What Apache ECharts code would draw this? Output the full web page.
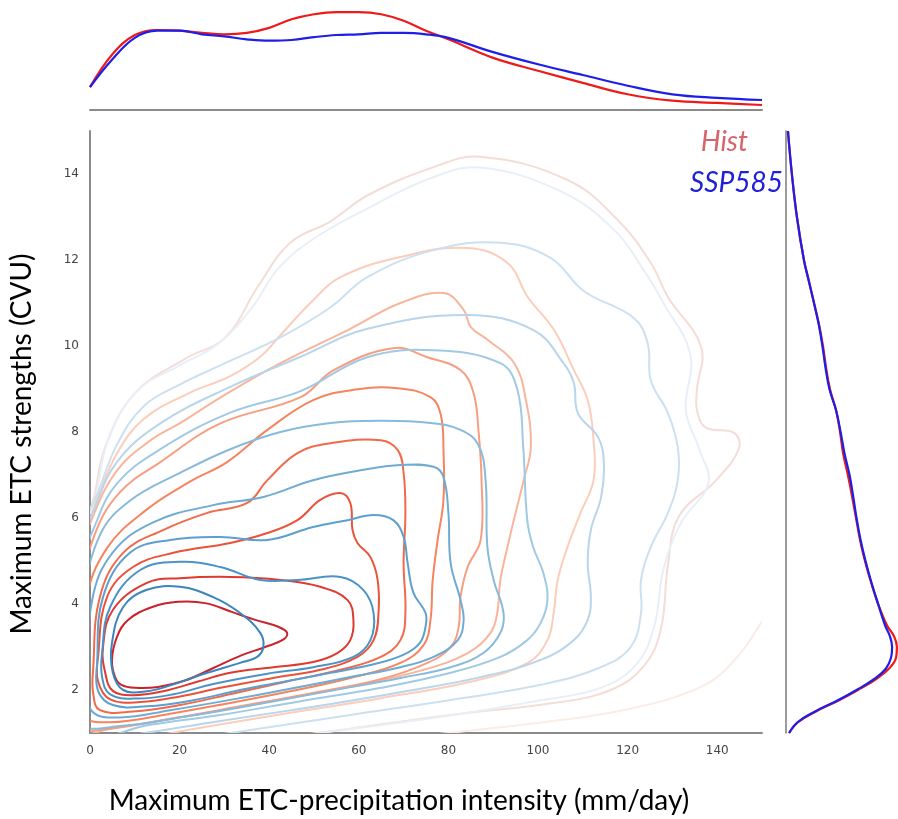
<!DOCTYPE html>
<html>
<head>
<meta charset="utf-8">
<script src="https://cdn.jsdelivr.net/npm/echarts@6/dist/echarts.min.js"></script>
<style>
  html, body { margin: 0; padding: 0; background: #ffffff; }
  #chart { width: 898px; height: 819px; }
</style>
</head>
<body>
<div id="chart"></div>
<script>
// ---------- axis ticks ----------
const precipTicks = [0, 20, 40, 60, 80, 100, 120, 140];
const cvuTicks = [2, 4, 6, 8, 10, 12, 14];

// ---------- marginal densities: precipitation (top panel) ----------
const precipGrid = [0, 5, 10, 15, 20, 25, 30, 35, 40, 45, 50, 55, 60, 65, 70, 75, 80, 90, 100, 110, 120, 130, 140, 150];
const histPrecipDensity = [0.0032, 0.0078, 0.0105, 0.0112, 0.0111, 0.0108, 0.0106, 0.0108, 0.0115, 0.0127, 0.0134, 0.0137, 0.0137, 0.0134, 0.0125, 0.0111, 0.0099, 0.0073, 0.0055, 0.0038, 0.0022, 0.0013, 0.0010, 0.0007];
const sspPrecipDensity  = [0.0032, 0.0071, 0.0101, 0.0111, 0.0111, 0.0106, 0.0103, 0.0099, 0.0097, 0.0098, 0.0102, 0.0105, 0.0106, 0.0108, 0.0108, 0.0106, 0.0101, 0.0081, 0.0064, 0.0049, 0.0034, 0.0022, 0.0017, 0.0014];

// ---------- marginal densities: ETC strength (right panel) ----------
const cvuGrid = [1.0, 1.25, 1.5, 1.75, 2.0, 2.25, 2.5, 2.75, 3.0, 3.25, 3.5, 4.0, 4.5, 5.0, 5.5, 6.0, 6.5, 7.0, 7.5, 8.0, 8.5, 9.0, 9.5, 10.0, 10.5, 11.0, 11.5, 12.0, 13.0, 14.0, 15.0];
const histCvuDensity = [0.011, 0.043, 0.107, 0.186, 0.257, 0.321, 0.368, 0.393, 0.396, 0.386, 0.361, 0.329, 0.304, 0.282, 0.264, 0.250, 0.236, 0.221, 0.204, 0.193, 0.179, 0.157, 0.143, 0.132, 0.118, 0.100, 0.082, 0.064, 0.039, 0.021, 0.007];
const sspCvuDensity  = [0.011, 0.041, 0.104, 0.182, 0.252, 0.314, 0.357, 0.375, 0.379, 0.371, 0.354, 0.329, 0.305, 0.284, 0.266, 0.252, 0.240, 0.227, 0.209, 0.195, 0.179, 0.155, 0.141, 0.130, 0.117, 0.100, 0.082, 0.064, 0.039, 0.021, 0.007];

// ---------- joint density iso-lines, Hist (level 1 = innermost) ----------
const histLevel1 = [[44.0,3.33],[42.0,3.47],[36.9,3.63],[31.8,3.81],[25.7,4.02],[19.7,4.05],[13.9,3.93],[8.5,3.63],[6.0,3.23],[4.9,2.70],[5.6,2.30],[7.0,2.12],[10.1,2.05],[15.2,2.07],[21.2,2.22],[27.3,2.50],[33.9,2.81],[39.1,3.00],[43.1,3.17]];
const histLevel2 = [[2.9,3.0],[5.1,3.86],[12.7,4.49],[20.1,4.60],[31.3,4.63],[42.5,4.56],[51.4,4.40],[57.5,4.09],[58.8,3.63],[58.1,3.16],[55.2,2.86],[49.8,2.65],[40.9,2.53],[31.3,2.40],[23.9,2.19],[16.3,1.97],[9.6,1.88],[5.1,1.98],[3.4,2.40]];
const histLevel3 = [[1.8,2.77],[3.8,4.16],[9.6,4.86],[18.6,5.19],[31.3,5.42],[39.6,5.65],[46.3,5.95],[51.4,6.42],[55.9,6.58],[58.1,6.35],[58.6,5.72],[59.7,5.42],[62.6,5.09],[64.2,4.56],[64.4,3.79],[63.3,3.16],[59.7,2.77],[51.4,2.47],[40.9,2.28],[29.1,2.05],[20.1,1.85],[11.2,1.72],[4.5,1.78],[1.8,2.20]];
const histLevel4 = [[0.7,2.47],[2.2,4.16],[7.4,5.19],[16.3,5.72],[26.2,6.12],[35.1,6.35],[39.6,6.88],[46.3,7.51],[53.7,7.74],[64.9,7.81],[68.7,7.58],[70.0,7.05],[70.4,6.12],[70.0,4.95],[70.4,3.79],[69.3,3.16],[64.9,2.77],[55.9,2.47],[44.0,2.20],[32.0,1.92],[20.1,1.65],[9.6,1.50],[2.2,1.53],[0.7,1.93]];
const histLevel5 = [[-1.5,2.2],[-0.8,4.1],[3.8,5.3],[12.7,6.2],[22.4,6.85],[30.6,7.3],[39.6,8.05],[49.8,8.74],[58.8,8.98],[68.6,9.02],[76.0,8.81],[78.3,8.40],[78.9,7.58],[78.9,6.42],[77.6,5.49],[76.5,4.56],[76.0,3.63],[74.5,3.05],[69.3,2.63],[58.1,2.28],[44.7,1.97],[31.3,1.70],[17.9,1.45],[4.5,1.25],[-1.5,1.4]];
const histLevel6 = [[-2.7,2.0],[-2.5,4.0],[1.0,5.6],[6.7,6.6],[15.7,7.3],[29.1,8.2],[47.0,8.81],[54.4,9.44],[67.7,9.95],[75.3,9.74],[82.7,9.44],[85.6,8.91],[86.7,8.05],[87.4,6.88],[87.2,5.49],[84.3,4.86],[82.7,4.16],[82.3,3.47],[80.5,3.0],[75.3,2.63],[64.9,2.25],[49.2,1.92],[33.5,1.62],[17.9,1.33],[2.2,1.07],[-2.7,1.1]];
const histLevel7 = [[-4.5,1.77],[-4.5,3.6],[-4.0,4.6],[0.5,6.0],[6.0,7.1],[13.4,7.8],[20.0,8.2],[29.1,8.8],[42.5,9.6],[58.1,10.4],[69.3,11.0],[79.0,11.23],[83.4,10.84],[85.0,10.44],[88.8,10.14],[94.7,9.60],[97.3,8.74],[98.4,7.65],[96.8,6.88],[94.6,5.95],[93.2,5.33],[91.6,4.56],[90.9,3.79],[89.4,3.33],[84.3,2.86],[73.8,2.45],[58.1,2.08],[40.2,1.74],[22.4,1.40],[4.5,1.10],[-4.5,0.95]];
const histLevel8 = [[-7.8,1.77],[-7.0,3.8],[-6.0,5.0],[0.5,6.2],[6.0,7.5],[12.0,8.3],[22.0,8.9],[31.3,9.3],[38.0,9.75],[42.5,10.25],[49.2,11.0],[55.9,11.6],[69.3,12.07],[84.3,12.28],[93.2,11.93],[97.7,11.14],[103.6,10.37],[108.0,9.44],[111.1,8.74],[112.4,7.81],[112.4,6.88],[109.5,6.12],[106.6,5.33],[104.4,4.56],[103.5,3.79],[102.1,3.16],[97.7,2.63],[84.9,2.19],[64.9,1.81],[44.7,1.47],[24.6,1.12],[6.7,0.79],[-7.8,0.6]];
const histLevel9 = [[-13.0,1.77],[-12.0,4.5],[-3.0,5.6],[0.4,6.3],[3.4,7.65],[10.0,8.9],[21.2,9.7],[30.2,10.2],[37.6,11.4],[44.7,12.4],[53.7,12.9],[61.9,13.5],[76.7,14.16],[87.2,14.4],[106.6,13.86],[117.8,12.93],[125.2,11.93],[129.0,11.14],[136.4,9.98],[135.5,9.0],[135.5,8.5],[137.5,8.1],[143.8,7.98],[144.8,7.6],[139.5,6.85],[131.5,6.05],[129.0,4.9],[127.4,3.4],[123.6,2.55],[116.2,2.0],[105.0,1.72],[80.5,1.42],[58.1,1.10],[35.8,0.8],[13.4,0.5],[-13.0,0.14]];
const histLevel10 = [[-20,1.0],[-20,12.0],[20,17.0],[100,17.5],[160,15.0],[163,6.0],[150,3.6],[142.4,2.53],[134.8,2.0],[120,1.55],[105,1.3],[80,1.0],[50,0.7],[0,0.3],[-20,0.2]];

// ---------- joint density iso-lines, SSP585 (level 1 = innermost) ----------
const sspLevel1 = [[4.9,3.09],[7.4,3.93],[12.7,4.33],[20.1,4.40],[27.5,4.16],[33.5,3.79],[38.0,3.33],[38.7,3.0],[37.3,2.77],[33.5,2.63],[26.2,2.40],[18.6,2.13],[12.7,1.97],[7.4,2.0],[5.1,2.40]];
const sspLevel2 = [[2.7,2.86],[4.5,3.93],[11.2,4.79],[20.1,4.98],[29.1,4.86],[38.0,4.56],[46.3,4.56],[55.9,4.63],[61.0,4.33],[63.3,3.79],[62.6,3.16],[58.8,2.77],[49.8,2.53],[39.6,2.38],[27.5,2.14],[18.6,1.90],[10.5,1.80],[4.5,1.90],[2.7,2.30]];
const sspLevel3 = [[1.6,2.63],[2.9,4.16],[8.9,5.19],[17.9,5.49],[29.1,5.56],[39.6,5.49],[49.8,5.79],[57.5,5.95],[63.3,6.07],[67.7,5.95],[70.0,5.56],[70.9,4.95],[72.2,4.26],[74.9,3.79],[74.9,3.47],[73.6,3.09],[69.8,2.81],[62.6,2.58],[53.7,2.40],[44.7,2.22],[33.5,2.0],[23.0,1.76],[12.7,1.62],[5.1,1.65],[1.8,1.98]];
const sspLevel4 = [[-0.5,2.2],[0.5,4.1],[5.1,5.2],[14.1,5.9],[27.5,6.3],[38.7,6.49],[49.8,6.88],[61.0,7.12],[69.3,7.23],[76.7,7.19],[78.9,6.95],[80.0,6.12],[80.5,4.95],[82.7,4.09],[83.4,3.63],[82.1,3.16],[76.7,2.77],[69.3,2.53],[58.1,2.30],[44.7,2.03],[31.3,1.77],[17.9,1.53],[6.7,1.36],[0.5,1.5]];
const sspLevel5 = [[-2.2,2.0],[-1.5,4.0],[2.2,5.6],[8.9,6.4],[20.1,7.05],[31.3,7.6],[42.5,8.0],[53.7,8.21],[64.9,8.26],[76.0,8.21],[82.7,8.05],[86.7,7.70],[88.3,6.88],[88.7,5.33],[90.1,4.56],[92.3,3.79],[91.6,3.33],[87.8,2.86],[80.5,2.53],[69.3,2.28],[53.7,1.98],[38.0,1.68],[22.4,1.40],[6.7,1.16],[-2.2,1.2]];
const sspLevel6 = [[-4.5,2.0],[-4.0,3.8],[-3.0,4.6],[1.0,5.8],[6.0,6.8],[15.7,7.6],[31.3,8.45],[47.0,8.95],[61.9,9.74],[76.7,9.90],[91.6,9.60],[95.4,8.98],[96.7,7.65],[97.6,5.95],[98.9,5.33],[101.2,4.72],[102.1,4.09],[100.6,3.56],[97.6,3.16],[91.6,2.77],[80.5,2.40],[64.9,2.05],[47.0,1.74],[29.1,1.42],[13.4,1.19],[-2.2,0.9]];
const sspLevel7 = [[-6.3,1.77],[-6.0,3.8],[-5.0,4.8],[0.5,6.1],[6.0,7.3],[15.7,8.2],[31.3,9.05],[47.0,9.75],[61.9,10.4],[84.3,10.72],[99.0,10.37],[105.7,9.60],[108.0,9.14],[108.9,8.44],[113.4,7.88],[114.7,7.28],[114.1,6.49],[111.8,5.72],[111.1,4.95],[111.8,4.16],[111.1,3.63],[108.0,3.16],[100.6,2.70],[87.2,2.30],[69.3,1.95],[49.2,1.60],[29.1,1.28],[11.2,0.98],[-6.3,0.72]];
const sspLevel8 = [[-10.0,1.77],[-9.0,3.9],[-7.0,5.0],[0.5,6.3],[6.0,7.7],[12.0,8.6],[20.0,9.1],[29.1,9.55],[42.5,10.2],[53.7,10.9],[61.9,11.6],[76.7,12.23],[91.6,12.40],[102.8,12.05],[110.2,11.28],[121.4,10.65],[124.5,10.05],[125.2,9.19],[129.0,8.44],[131.2,7.65],[131.2,6.88],[129.0,6.12],[125.2,5.33],[123.0,4.56],[123.0,3.79],[120.7,3.0],[114.0,2.53],[100.6,2.12],[80.5,1.77],[58.1,1.42],[35.8,1.07],[13.4,0.72],[-10.0,0.35]];
const sspLevel9 = [[-15,1.5],[-14,4.4],[-5,5.3],[0.5,6.25],[4.0,7.8],[10.5,8.95],[20.0,9.55],[28.6,10.05],[36.2,10.9],[42.0,11.8],[50.0,12.5],[62.0,13.2],[76.0,13.9],[87.0,14.15],[105.0,13.6],[117.0,12.7],[124.0,11.7],[128.0,11.0],[134.0,9.8],[133.0,8.5],[136.0,7.6],[138.0,6.8],[132.0,5.9],[128.0,4.8],[126.0,3.5],[122.0,2.6],[114.0,2.05],[100.0,1.75],[80,1.4],[55,1.05],[30,0.7],[0,0.3]];

const histLevels = [histLevel10, histLevel9, histLevel8, histLevel7, histLevel6, histLevel5, histLevel4, histLevel3, histLevel2, histLevel1];
const histColors = ['#fbece7', '#f3ddd6', '#fbcdbb', '#f9b59c', '#f89e80', '#f5845f', '#f06a4b', '#ea5239', '#de3a2f', '#c9222a'];
const sspLevels = [sspLevel9, sspLevel8, sspLevel7, sspLevel6, sspLevel5, sspLevel4, sspLevel3, sspLevel2, sspLevel1];
const sspColors = ['#e8eff7', '#cde0f0', '#b8d5eb', '#a0c9e3', '#88badc', '#70abd4', '#5d9fcd', '#4b93c6', '#3a86bd'];

// ---------- drawing ----------
const chart = echarts.init(document.getElementById('chart'), null, { renderer: 'canvas' });

function isoLineSeries(name, levels, colors) {
  return {
    type: 'custom',
    name: name,
    xAxisIndex: 0,
    yAxisIndex: 0,
    clip: true,
    silent: true,
    data: levels.map(function (pts, i) { return [pts[0][0], pts[0][1], i]; }),
    renderItem: function (params, api) {
      const i = params.dataIndex;
      const pts = levels[i].map(function (p) { return api.coord(p); });
      return {
        type: 'polygon',
        shape: { points: pts, smooth: 0.4 },
        style: { fill: 'none', stroke: colors[i], lineWidth: 2 }
      };
    }
  };
}

const tickFont = { color: '#444444', fontSize: 12, fontFamily: 'DejaVu Sans' };
const axisGray = '#8a8a8a';

const option = {
  backgroundColor: '#ffffff',
  animation: false,
  grid: [
    { left: 90, top: 131, width: 672, height: 602 },   // joint panel
    { left: 90, top: 10, width: 672, height: 100 },    // precipitation marginal
    { left: 786, top: 131, width: 112, height: 602 }   // strength marginal
  ],
  xAxis: [
    {
      gridIndex: 0, type: 'value', min: 0, max: 150, interval: 20,
      axisLine: { show: true, onZero: false, lineStyle: { color: axisGray, width: 2 } },
      axisTick: { show: false }, splitLine: { show: false },
      axisLabel: Object.assign({ margin: 12, formatter: function (v) { return precipTicks.indexOf(v) >= 0 ? String(v) : ''; } }, tickFont)
    },
    {
      gridIndex: 1, type: 'value', min: 0, max: 150,
      axisLine: { show: true, onZero: false, lineStyle: { color: axisGray, width: 2 } },
      axisTick: { show: false }, axisLabel: { show: false }, splitLine: { show: false }
    },
    { gridIndex: 2, type: 'value', min: 0, max: 0.4, show: false }
  ],
  yAxis: [
    {
      gridIndex: 0, type: 'value', min: 1, max: 15, interval: 1,
      axisLine: { show: true, onZero: false, lineStyle: { color: axisGray, width: 2 } },
      axisTick: { show: false }, splitLine: { show: false },
      axisLabel: Object.assign({ margin: 11, formatter: function (v) { return cvuTicks.indexOf(v) >= 0 ? String(v) : ''; } }, tickFont)
    },
    { gridIndex: 1, type: 'value', min: 0, max: 0.014, show: false },
    {
      gridIndex: 2, type: 'value', min: 1, max: 15,
      axisLine: { show: true, onZero: false, lineStyle: { color: '#7a7a7a', width: 1.5 } },
      axisTick: { show: false }, axisLabel: { show: false }, splitLine: { show: false }
    }
  ],
  series: [
    isoLineSeries('Hist', histLevels, histColors),
    isoLineSeries('SSP585', sspLevels, sspColors),
    {
      type: 'line', xAxisIndex: 1, yAxisIndex: 1, smooth: 0.4, showSymbol: false, silent: true,
      lineStyle: { color: '#ee1a1a', width: 2.2 },
      data: precipGrid.map(function (x, i) { return [x, histPrecipDensity[i]]; })
    },
    {
      type: 'line', xAxisIndex: 1, yAxisIndex: 1, smooth: 0.4, showSymbol: false, silent: true,
      lineStyle: { color: '#1e1ee6', width: 2.2 },
      data: precipGrid.map(function (x, i) { return [x, sspPrecipDensity[i]]; })
    },
    {
      type: 'line', xAxisIndex: 2, yAxisIndex: 2, smooth: 0.4, showSymbol: false, silent: true,
      lineStyle: { color: '#ee1a1a', width: 2.2 },
      data: cvuGrid.map(function (y, i) { return [histCvuDensity[i], y]; })
    },
    {
      type: 'line', xAxisIndex: 2, yAxisIndex: 2, smooth: 0.4, showSymbol: false, silent: true,
      lineStyle: { color: '#1e1ee6', width: 2.2 },
      data: cvuGrid.map(function (y, i) { return [sspCvuDensity[i], y]; })
    }
  ],
  graphic: [
    {
      type: 'text', x: 399, y: 801,
      style: { text: 'Maximum ETC-precipitation intensity (mm/day)', font: '28px Lato', fill: '#000000', align: 'center', verticalAlign: 'middle' }
    },
    {
      type: 'text', x: 22, y: 444, rotation: Math.PI / 2,
      style: { text: 'Maximum ETC strengths (CVU)', font: '28px Lato', fill: '#000000', align: 'center', verticalAlign: 'middle' }
    },
    {
      type: 'text', x: 748, y: 142,
      style: { text: 'Hist', font: 'italic 28px Lato', fill: '#d8636b', align: 'right', verticalAlign: 'middle' }
    },
    {
      type: 'text', x: 783, y: 183,
      style: { text: 'SSP585', font: 'italic 28px Lato', fill: '#2020d8', align: 'right', verticalAlign: 'middle' }
    }
  ]
};

chart.setOption(option);
</script>
</body>
</html>
